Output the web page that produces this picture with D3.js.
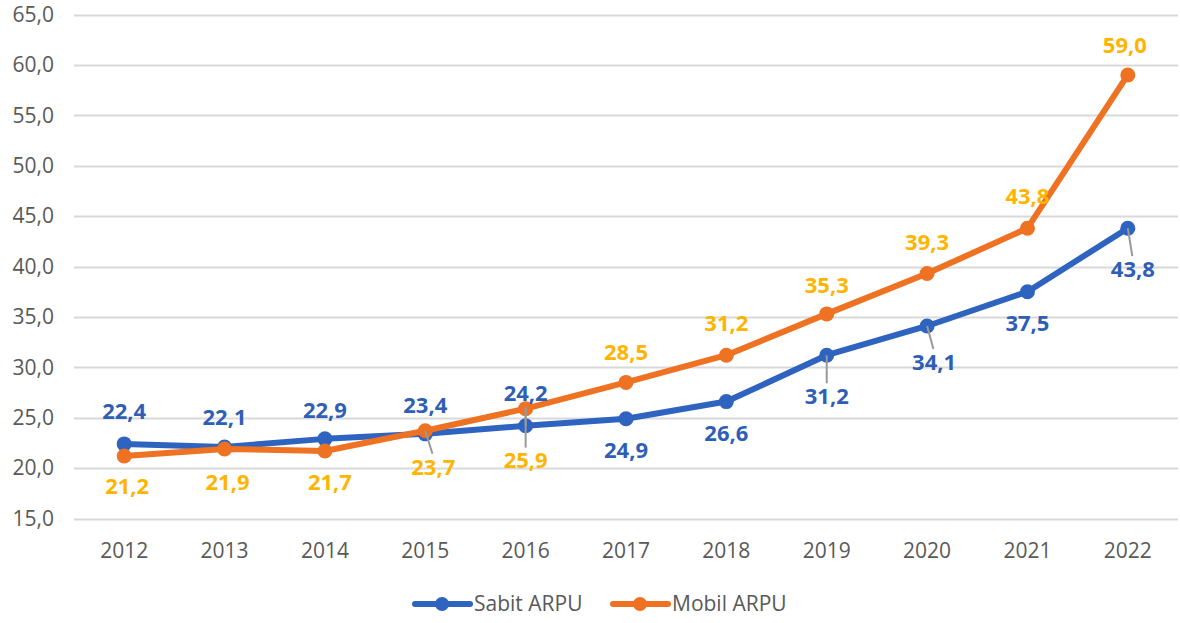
<!DOCTYPE html>
<html>
<head>
<meta charset="utf-8">
<script src="https://cdn.jsdelivr.net/npm/d3@7"></script>
<style>
  html, body { margin: 0; padding: 0; background: #fff; }
  svg { display: block; }
  text { font-family: "Open Sans", "Liberation Sans", sans-serif; }
</style>
</head>
<body>
<svg id="chart" width="1180" height="623"></svg>
<script>
// ---- Data ----
const years = ["2012","2013","2014","2015","2016","2017","2018","2019","2020","2021","2022"];
const sabitARPU = [22.4, 22.1, 22.9, 23.4, 24.2, 24.9, 26.6, 31.2, 34.1, 37.5, 43.8];
const mobilARPU = [21.2, 21.9, 21.7, 23.7, 25.9, 28.5, 31.2, 35.3, 39.3, 43.8, 59.0];
const yTicks = [15, 20, 25, 30, 35, 40, 45, 50, 55, 60, 65];
const seriesNames = ["Sabit ARPU", "Mobil ARPU"];

// ---- Label layout (pixel offsets from marker; leader = draw connector) ----
const sabitLabelLayout = [
  {dx: 0, dy: -33}, {dx: 0, dy: -30}, {dx: 0, dy: -29}, {dx: 0, dy: -29},
  {dx: 0, dy: -32, leader: true}, {dx: 0, dy: 32}, {dx: 0, dy: 32},
  {dx: 0, dy: 41, leader: true}, {dx: 7, dy: 36, leader: true}, {dx: 0, dy: 32},
  {dx: 5, dy: 41, leader: true}
];
const mobilLabelLayout = [
  {dx: 3, dy: 30}, {dx: 3, dy: 33}, {dx: 5, dy: 31}, {dx: 8, dy: 36, leader: true},
  {dx: 0, dy: 52, leader: true}, {dx: 0, dy: -30}, {dx: 0, dy: -32},
  {dx: 0, dy: -29}, {dx: 0, dy: -31}, {dx: 0, dy: -32}, {dx: -3, dy: -30}
];

const colors = { sabitLine: "#2E63C0", mobilLine: "#EF7122", sabitLabel: "#2E5EB5", mobilLabel: "#FFB400" };

const svg = d3.select("#chart");
const plotLeft = 74, plotRight = 1178, plotTop = 14.5, plotBottom = 518.5;

const x = d3.scalePoint().domain(years).range([plotLeft, plotRight]).padding(0.5);
const y = d3.scaleLinear().domain([15, 65]).range([plotBottom, plotTop]);

// gridlines
svg.append("g").selectAll("line").data(yTicks).join("line")
  .attr("x1", plotLeft).attr("x2", plotRight)
  .attr("y1", d => Math.round(y(d)) + 0.5).attr("y2", d => Math.round(y(d)) + 0.5)
  .attr("stroke", "#D9D9D9").attr("stroke-width", 2);

// y axis labels
const fmt = d => d.toFixed(1).replace(".", ",");
svg.append("g").selectAll("text").data(yTicks).join("text")
  .attr("x", 54).attr("y", d => y(d)).attr("dy", "0.35em")
  .attr("text-anchor", "end").attr("font-size", 21).attr("fill", "#595959")
  .text(fmt);

// x axis labels
svg.append("g").selectAll("text").data(years).join("text")
  .attr("x", d => x(d)).attr("y", 551).attr("dy", "0.35em")
  .attr("text-anchor", "middle").attr("font-size", 21).attr("fill", "#595959")
  .text(d => d);

const series = [
  { name: seriesNames[0], values: sabitARPU, line: colors.sabitLine, label: colors.sabitLabel, layout: sabitLabelLayout },
  { name: seriesNames[1], values: mobilARPU, line: colors.mobilLine, label: colors.mobilLabel, layout: mobilLabelLayout }
];

const lineGen = d3.line().x((d, i) => x(years[i])).y(d => y(d));

series.forEach(s => {
  svg.append("path").datum(s.values)
    .attr("d", lineGen).attr("fill", "none")
    .attr("stroke", s.line).attr("stroke-width", 6)
    .attr("stroke-linejoin", "round").attr("stroke-linecap", "round");
  svg.append("g").selectAll("circle").data(s.values).join("circle")
    .attr("cx", (d, i) => x(years[i])).attr("cy", d => y(d)).attr("r", 7.5)
    .attr("fill", s.line);
});

// leader lines
series.forEach(s => {
  s.values.forEach((v, i) => {
    const L = s.layout[i];
    if (!L.leader) return;
    const cx = x(years[i]), cy = y(v);
    const ty = cy + L.dy;
    const sign = L.dy > 0 ? 1 : -1;
    svg.append("line")
      .attr("x1", cx).attr("y1", cy)
      .attr("x2", cx + L.dx * 0.9).attr("y2", ty - sign * 13)
      .attr("stroke", "#999").attr("stroke-width", 2);
  });
});

// data labels
series.forEach(s => {
  svg.append("g").selectAll("text").data(s.values).join("text")
    .attr("x", (d, i) => x(years[i]) + s.layout[i].dx)
    .attr("y", (d, i) => y(d) + s.layout[i].dy)
    .attr("dy", "0.35em").attr("text-anchor", "middle")
    .attr("font-size", 22).attr("font-weight", "bold").attr("fill", s.label)
    .text(fmt);
});

// legend
const legendItems = [
  { name: seriesNames[0], color: colors.sabitLine, x0: 415 },
  { name: seriesNames[1], color: colors.mobilLine, x0: 613 }
];
const lg = svg.append("g");
legendItems.forEach(it => {
  lg.append("line").attr("x1", it.x0).attr("x2", it.x0 + 55)
    .attr("y1", 604).attr("y2", 604).attr("stroke", it.color).attr("stroke-width", 6)
    .attr("stroke-linecap", "round");
  lg.append("circle").attr("cx", it.x0 + 27).attr("cy", 604).attr("r", 7).attr("fill", it.color);
  lg.append("text").attr("x", it.x0 + 59).attr("y", 604).attr("dy", "0.35em")
    .attr("font-size", 21).attr("fill", "#595959").text(it.name);
});
</script>
</body>
</html>
